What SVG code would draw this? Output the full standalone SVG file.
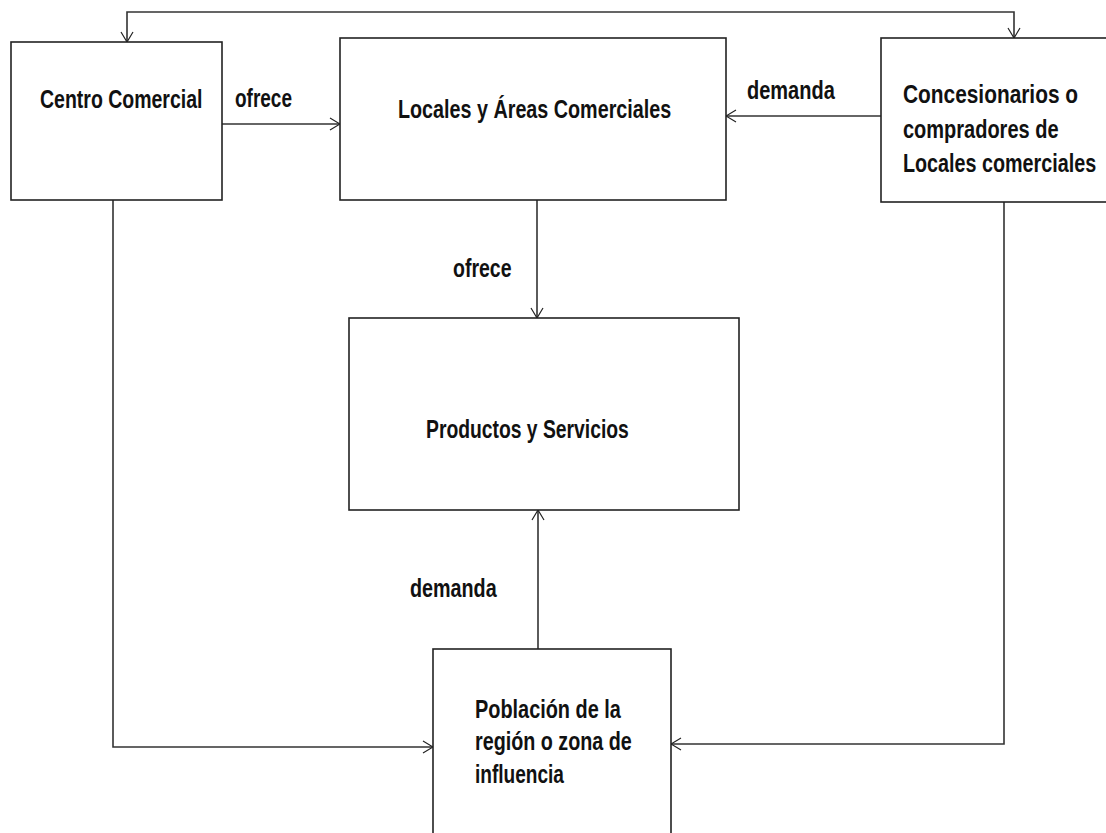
<svg xmlns="http://www.w3.org/2000/svg" width="1106" height="833" viewBox="0 0 1106 833">
<style>
.box{fill:#fff;stroke:#222;stroke-width:1.6}
.c{fill:none;stroke:#333;stroke-width:1.6}
text{font-family:"Liberation Sans",Arial,sans-serif;font-weight:bold;font-size:25px;fill:#111}
</style>
<defs>
<marker id="arr" viewBox="0 0 14 14" refX="13" refY="7" markerWidth="14" markerHeight="14" markerUnits="userSpaceOnUse" orient="auto">
<path d="M3,1 L13,7 L3,13" fill="none" stroke="#222" stroke-width="1.2"/>
</marker>
</defs>
<rect width="1106" height="833" fill="#fff"/>
<g id="connectors">
<path class="c" d="M570,12 H127 V42" marker-end="url(#arr)"/>
<path class="c" d="M570,12 H1014 V38" marker-end="url(#arr)"/>
<path class="c" d="M222,124 H340" marker-end="url(#arr)"/>
<path class="c" d="M881,116 H726" marker-end="url(#arr)"/>
<path class="c" d="M537,200 V318" marker-end="url(#arr)"/>
<path class="c" d="M538,649 V510" marker-end="url(#arr)"/>
<path class="c" d="M113,200 V747 H433" marker-end="url(#arr)"/>
<path class="c" d="M1004,202 V744 H671" marker-end="url(#arr)"/>
<text transform="translate(235,107) scale(0.76,1)">ofrece</text>
<text transform="translate(747,99) scale(0.80,1)">demanda</text>
<text transform="translate(453,277) scale(0.78,1)">ofrece</text>
<text transform="translate(410,597) scale(0.79,1)">demanda</text>
</g>
<g id="centro">
<rect class="box" x="11" y="42" width="211" height="158"/>
<text transform="translate(40,108) scale(0.78,1)">Centro Comercial</text>
</g>
<g id="locales">
<rect class="box" x="340" y="38" width="386" height="162"/>
<text transform="translate(398,118) scale(0.79,1)">Locales y Áreas Comerciales</text>
</g>
<g id="concesionarios">
<rect class="box" x="881" y="38" width="230" height="164"/>
<text transform="translate(903,103) scale(0.835,1)">Concesionarios o</text>
<text transform="translate(903,138) scale(0.80,1)">compradores de</text>
<text transform="translate(903,172) scale(0.79,1)">Locales comerciales</text>
</g>
<g id="productos">
<rect class="box" x="349" y="318" width="390" height="192"/>
<text transform="translate(426,438) scale(0.773,1)">Productos y Servicios</text>
</g>
<g id="poblacion">
<rect class="box" x="433" y="649" width="238" height="200"/>
<text transform="translate(475,718) scale(0.796,1)">Población de la</text>
<text transform="translate(475,750) scale(0.79,1)">región o zona de</text>
<text transform="translate(475,783) scale(0.763,1)">influencia</text>
</g>
</svg>
